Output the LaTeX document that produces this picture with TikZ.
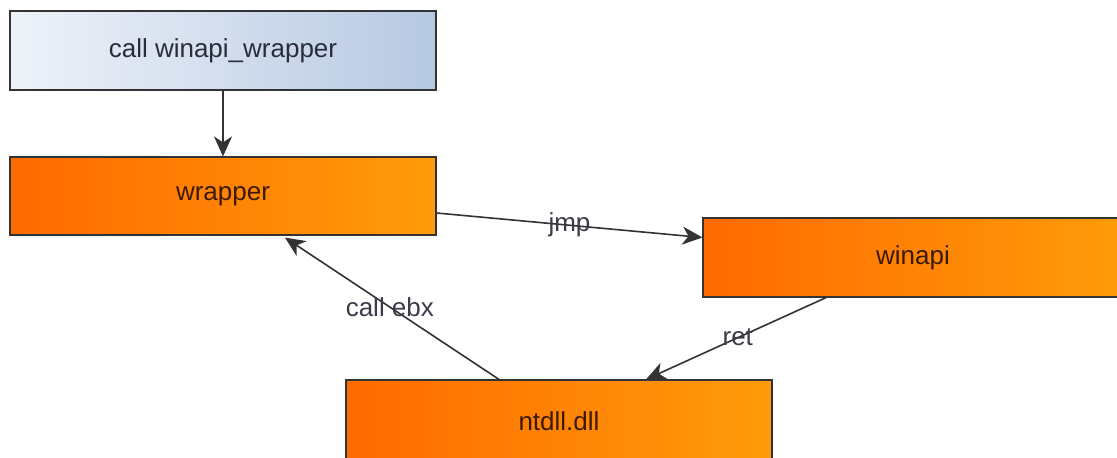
\documentclass[tikz,border=0pt]{standalone}
\usepackage{fontspec}
\setmainfont{Liberation Sans}
\usetikzlibrary{arrows.meta}
\definecolor{edgegray}{HTML}{333333}
\definecolor{orangeL}{HTML}{FF6A00}
\definecolor{orangeR}{HTML}{FF9C0A}
\definecolor{blueL}{HTML}{EEF2F9}
\definecolor{blueR}{HTML}{B7C9E2}
\definecolor{boxtxt}{HTML}{3A1A08}
\definecolor{bluetxt}{HTML}{2A2C3A}
\definecolor{lbltxt}{HTML}{3A3C48}
\tikzset{
  basebox/.style={draw=edgegray, line width=1.2pt, rectangle, inner sep=0pt,
    font=\fontsize{26}{31}\selectfont},
  orangebox/.style={basebox, left color=orangeL, right color=orangeR, text=boxtxt},
  bluebox/.style={basebox, left color=blueL, right color=blueR, text=bluetxt},
  conn/.style={draw=edgegray, line width=1.6pt, -{Stealth[length=20pt,width=18pt,inset=6pt]}},
  lbl/.style={font=\fontsize{26}{31}\selectfont, text=lbltxt, inner sep=0pt}
}
\begin{document}
\begin{tikzpicture}[x=1pt,y=-1pt]
\useasboundingbox (0,0) rectangle (1117,458);
\clip (0,0) rectangle (1117,458);
\fill[white] (0,0) rectangle (1117,458);
\node[bluebox, minimum width=426pt, minimum height=79pt] (call) at (223,50.5) {call winapi\_wrapper};
\node[orangebox, minimum width=426pt, minimum height=78pt] (wrapper) at (223,196) {wrapper};
\node[orangebox, minimum width=420pt, minimum height=79pt] (winapi) at (913,257.5) {winapi};
\node[orangebox, minimum width=426pt, minimum height=82pt] (ntdll) at (559,421) {ntdll.dll};

\draw[conn] (call.south) -- (wrapper.north);
\draw[conn] ([yshift=-17pt]wrapper.east) -- node[lbl, pos=0.5] (ljmp) {jmp} ([yshift=20pt]winapi.west);
\draw[conn] ([xshift=-87pt]winapi.south) -- node[lbl, pos=0.49] (lret) {ret} ([xshift=87pt]ntdll.north);
\draw[conn] ([xshift=-60pt]ntdll.north) -- node[lbl, pos=0.51] (lcall) {call ebx} ([xshift=62pt,yshift=-2pt]wrapper.south);
\end{tikzpicture}
\end{document}
